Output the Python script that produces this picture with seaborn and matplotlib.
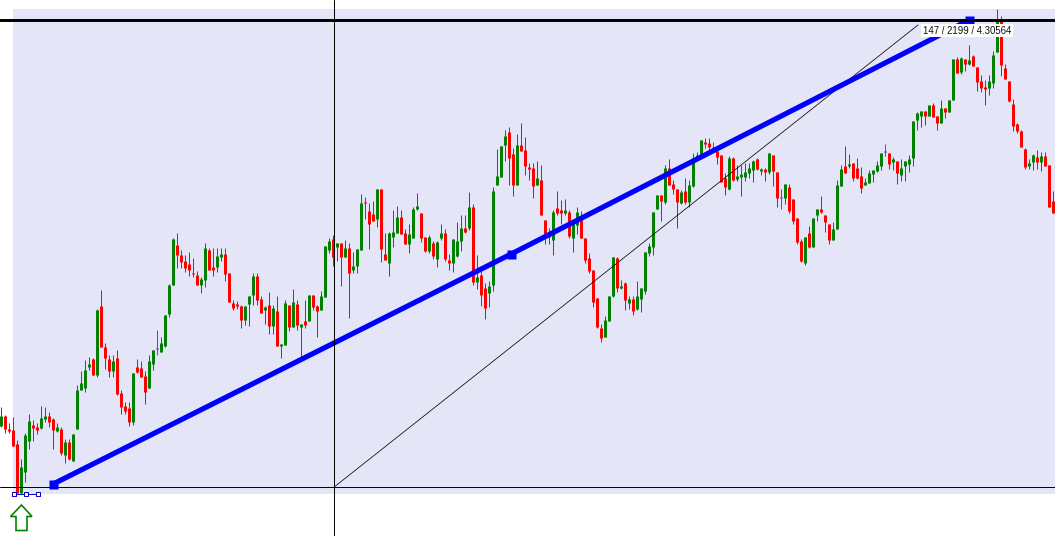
import numpy as np
import pandas as pd
import seaborn as sns
import matplotlib
matplotlib.use("Agg")
import matplotlib.pyplot as plt
from matplotlib.patches import Polygon, Rectangle

# candle direction: G up, R down, P doji
candle_dir = ("GRRRRGGGRR" "GGRRGRGRGG" "GGGRGRRRGR" "RRRGRRRGGP" "GGGGRRRRRR"
              "GGRRGGRRRR" "RGGGRRGRGR" "GGRGRGRGRR" "GGGRGRGRGG" "GRRRGRRGGG"
              "RRGGGRRGRG" "GRRGGGRGRG" "RRGGGGGRRG" "RRRRGRRRGR" "RGRGGRRRRR"
              "RGGGRGRGRG" "GGGGGRGRRR" "GRGGGGRRPR" "RRGRGGGGGR" "GRGRRPGRRR"
              "RGRGGRRRGG" "GRGRRRGGGG" "GPRGRGGGGG" "GRGRRGRGGR" "GRGRRRRGGG"
              "RRRRRRRGGR" "GRRR")

# chart levels, measured downward from the top of the picture
high = [407,415,423,417,440,459,433,414,420,423,
        406,407,412,418,423,427,439,439,434,385,
        371,360,357,358,309,290,343,355,355,350,
        390,402,402,373,359,361,371,355,350,330,
        337,315,284,238,233,250,255,252,258,271,
        277,243,248,248,248,248,248,273,300,301,
        305,306,296,273,273,296,306,292,305,296,
        344,300,305,289,300,324,300,295,295,305,
        291,246,238,235,243,243,240,243,252,249,
        194,197,203,201,189,189,233,232,210,206,
        210,229,224,207,193,213,237,235,241,241,
        224,229,254,239,222,215,215,192,204,255,
        267,283,281,187,149,146,130,127,148,134,
        123,137,163,163,161,165,220,228,210,191,
        200,199,210,220,207,211,238,253,270,298,
        324,316,296,257,257,280,282,296,296,281,
        288,252,243,212,195,195,165,159,180,189,
        190,178,180,153,152,140,138,138,142,148,
        155,173,156,157,165,165,163,163,160,158,
        168,168,153,155,172,189,184,184,199,218,
        239,237,226,218,209,196,215,224,222,180,
        165,146,154,163,158,167,178,170,170,161,
        153,144,153,157,161,159,161,155,121,112,
        111,111,105,103,116,100,108,100,59,57,
        57,59,45,55,67,75,80,75,51,9,
        16,64,81,99,123,130,148,159,154,150,
        152,152,165,191]
body_top = [416,416,429,430,444,467,435,421,425,427,
        418,416,416,419,427,429,442,442,434,390,
        383,370,364,359,310,306,347,359,361,358,
        393,406,408,373,367,368,376,361,350,348,
        343,315,285,239,245,255,261,264,273,275,
        279,248,250,267,256,254,254,273,303,304,
        306,306,296,276,276,299,307,305,308,311,
        344,303,305,302,304,324,321,295,295,306,
        296,246,241,239,243,243,248,248,266,249,
        203,202,211,214,189,189,254,233,232,217,
        217,233,234,209,206,213,237,237,243,242,
        233,233,260,239,241,228,228,207,207,277,
        275,288,286,191,176,146,136,132,154,145,
        145,150,167,168,178,180,220,233,212,208,
        210,210,212,220,212,218,238,258,270,298,
        328,320,296,257,258,286,283,299,299,296,
        288,252,246,212,195,195,168,168,184,189,
        192,191,185,158,155,140,142,143,147,151,
        155,178,158,158,176,174,172,168,161,159,
        169,169,153,155,172,197,184,187,199,218,
        241,237,233,218,209,209,215,224,229,185,
        169,166,164,163,168,176,182,173,170,165,
        153,151,153,159,161,168,161,159,121,113,
        111,111,105,105,116,108,108,100,59,59,
        58,59,60,56,67,81,87,81,55,20,
        19,68,81,104,124,131,149,163,155,157,
        156,156,165,201]
body_bot = [426,429,431,446,493,493,472,441,428,430,
        428,419,422,430,431,453,455,459,461,429,
        390,388,367,375,375,347,358,371,371,394,
        407,411,422,422,372,377,392,388,364,349,
        352,346,314,285,255,262,268,270,274,285,
        285,280,270,270,267,257,274,302,308,306,
        320,320,304,295,300,313,310,326,326,346,
        346,345,327,327,325,327,325,321,307,311,
        310,297,250,257,247,257,257,273,270,266,
        250,203,224,221,219,249,260,263,237,233,
        234,244,244,238,209,238,251,251,256,259,
        238,259,263,263,256,241,232,228,282,282,
        295,308,293,285,185,177,145,158,185,185,
        151,166,169,186,185,215,237,237,240,213,
        213,213,236,238,225,238,260,271,302,327,
        338,337,321,296,288,288,300,303,311,309,
        299,291,253,247,209,201,202,185,189,202,
        203,202,202,186,158,154,144,147,148,157,
        182,187,189,180,179,177,177,173,170,169,
        171,172,172,171,198,198,198,211,221,242,
        261,263,247,247,215,212,222,240,240,229,
        186,173,166,178,178,188,185,183,174,171,
        166,152,164,162,173,175,166,164,158,120,
        116,116,116,117,123,123,112,112,100,73,
        72,64,64,66,82,88,89,88,83,52,
        65,79,101,126,131,147,167,166,162,162,
        162,166,207,213]
low = [427,433,433,446,493,493,482,449,441,434,
        429,422,427,449,432,455,463,460,461,429,
        390,392,370,375,377,347,369,377,377,395,
        414,414,426,425,373,377,404,388,370,355,
        352,347,317,285,268,268,272,276,277,285,
        293,287,270,276,272,261,281,302,310,309,
        328,325,326,305,305,313,324,334,334,346,
        358,345,331,327,330,357,328,321,310,337,
        310,297,253,266,261,286,257,318,273,273,
        250,219,249,221,227,262,260,276,247,233,
        234,244,253,238,210,242,252,253,259,267,
        240,261,270,272,257,251,233,230,285,289,
        306,319,307,291,185,177,161,185,196,185,
        151,175,180,198,185,215,244,244,255,215,
        224,215,238,252,234,238,263,273,307,328,
        342,337,321,297,292,289,310,309,315,310,
        312,294,256,255,209,221,204,185,194,228,
        204,204,207,187,160,154,148,150,152,164,
        182,195,190,181,181,196,181,178,182,170,
        175,181,174,186,207,209,204,213,224,244,
        262,265,248,247,221,213,232,244,240,229,
        186,173,168,181,179,193,185,183,182,172,
        170,156,169,170,184,181,181,172,166,130,
        127,125,116,117,130,123,118,112,100,73,
        74,71,65,66,91,92,105,95,88,52,
        76,79,102,131,133,147,169,169,170,169,
        171,166,207,213]

trend_idx = [13, 127.5, 242]
trend_lvl = [484, 254, 20]
ray_idx = [83.25, 229.2]
ray_lvl = [487, 25]
upper_level = 20
lower_level = 487
cross_idx = 83.25
label_text = "147 / 2199 / 4.30564"

sns.set_theme(style="white")
n = len(high)
idx = np.arange(n)
wicks = pd.DataFrame({"i": np.r_[idx, idx], "y": high + low,
                      "d": list(candle_dir) * 2, "u": np.r_[idx, idx]})
bodies = pd.DataFrame({"i": np.r_[idx, idx], "y": body_top + body_bot,
                       "d": list(candle_dir) * 2, "u": np.r_[idx, idx]})
palette = {"G": "#008000", "R": "#ff0000", "P": "#8a2be2"}

W, H = 1055, 536
fig = plt.figure(figsize=(W / 100, H / 100), dpi=100, facecolor="white")
ax = fig.add_axes([0, 0, 1, 1])
ax.set_facecolor("white")
to_i = lambda px: (px - 1.2) / 4
ax.add_patch(Rectangle((to_i(13), 9), to_i(1056) - to_i(13), 485, fc="#e4e6f8", ec="none", zorder=0))

px = 0.72
common = dict(x="i", y="y", hue="d", units="u", estimator=None, errorbar=None, sort=False,
              palette=palette, legend=False, ax=ax, solid_capstyle="butt")
sns.lineplot(data=wicks, linewidth=0.98 * px, zorder=2, **common)
sns.lineplot(data=bodies, linewidth=2.98 * px, zorder=3, **common)

ax.plot(ray_idx, ray_lvl, color="black", lw=0.75 * px, zorder=4)
ax.plot(trend_idx, trend_lvl, color="#0000ff", lw=5.2 * px, solid_capstyle="butt", zorder=5)
ax.plot(trend_idx, trend_lvl, ls="none", marker="s", ms=9 * px, mec="none", color="#0000ff", zorder=5)
ax.axhline(upper_level, color="black", lw=2.95 * px, zorder=6)
ax.axhline(lower_level, color="black", lw=0.98 * px, zorder=6)
ax.axvline(cross_idx, color="black", lw=0.98 * px, zorder=6)

anchor_x = [to_i(13.5), to_i(25.5), to_i(37.5)]
ax.plot(anchor_x, [493.5] * 3, color="#0000c8", lw=0.98 * px, marker="s", ms=4.5 * px,
        mfc="white", mec="#0000c8", mew=1 * px, zorder=7)

arrow = [(21.5, 505), (32, 516.5), (27, 516.5), (27, 530.5), (16, 530.5), (16, 516.5), (10.5, 516.5)]
ax.add_patch(Polygon([(to_i(a), b) for a, b in arrow], closed=True, fc="white", ec="#008000",
                     lw=1.6 * px, zorder=7))

ax.text(to_i(967), 30.7, label_text, fontsize=6.9, family="Liberation Sans", color="#101010",
        ha="center", va="center", zorder=8,
        bbox=dict(fc="white", ec="none", pad=1.2))

ax.set_xlim(to_i(0), to_i(1055))
ax.set_ylim(536, 0)
ax.axis("off")
fig.patch.set_facecolor("white")
fig.savefig("out.png", dpi=100, facecolor="white")
